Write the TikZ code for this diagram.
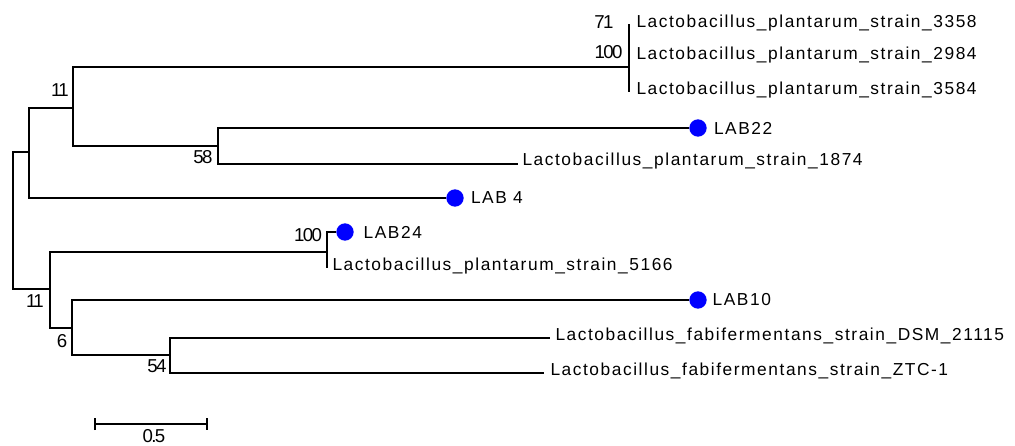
\documentclass[tikz,border=0pt]{standalone}
\usepackage{fontspec}
\setmainfont{Liberation Sans}
\newfontfamily\taxonfont{Liberation Sans}[LetterSpace=9]
\newfontfamily\bootfont{Liberation Sans}[LetterSpace=-9]
\usetikzlibrary{arrows.meta}

\tikzset{every picture/.style={line width=0.75pt}}
\tikzset{
  branch/.style={line width=1.2pt},
  taxon/.style={anchor=west, inner sep=0.75pt, text=black, font=\taxonfont\fontsize{13}{15}\selectfont},
  boot/.style={inner sep=0.75pt, font=\bootfont\fontsize{14}{16}\selectfont},
  marker/.style={circle, fill={rgb, 255:red, 0; green, 0; blue, 255}, inner sep=0pt, minimum size=13pt},
}

\begin{document}
\begin{tikzpicture}[x=0.75pt,y=0.75pt,yscale=-1,xscale=1]
        \useasboundingbox (0,0) rectangle (1015,446);

        %Internal nodes
        \coordinate (root) at (13,221);
        \coordinate (nA) at (29,152);
        \coordinate (n11a) at (73,108);
        \coordinate (n100a) at (629,67);
        \coordinate (n71) at (629,40);
        \coordinate (n58) at (218,146);
        \coordinate (n11b) at (50,289);
        \coordinate (n100b) at (327,252);
        \coordinate (n6) at (72,328);
        \coordinate (n54) at (170,355);

        %Leaf ends
        \coordinate (t3358) at (629,24);
        \coordinate (t2984) at (629,55);
        \coordinate (t3584) at (629,92);
        \coordinate (t1874) at (518,164);
        \coordinate (t5166) at (327,268);
        \coordinate (tDSM) at (550,338);
        \coordinate (tZTC) at (544,373);
        \node [marker] (lab22) at (698,128) {};
        \node [marker] (lab4) at (455,198) {};
        \node [marker] (lab24) at (345,232) {};
        \node [marker] (lab10) at (698,300) {};

        %Branches
        \draw [branch] (root) |- (nA);
        \draw [branch] (root) |- (n11b);
        \draw [branch] (nA) |- (n11a);
        \draw [branch] (nA) |- (lab4.west);
        \draw [branch] (n11a) |- (n100a);
        \draw [branch] (n11a) |- (n58);
        \draw [branch] (t3358) -- (t2984);
        \draw [branch] (n71) -- (t3584);
        \draw [branch] (n58) |- (lab22.west);
        \draw [branch] (n58) |- (t1874);
        \draw [branch] (n11b) |- (n100b);
        \draw [branch] (n11b) |- (n6);
        \draw [branch] (n100b) |- (lab24.west);
        \draw [branch] (n100b) |- (t5166);
        \draw [branch] (n6) |- (lab10.west);
        \draw [branch] (n6) |- (n54);
        \draw [branch] (n54) |- (tDSM);
        \draw [branch] (n54) |- (tZTC);

        % Text Node
        \node [taxon] (l3358) at (635,23) {Lactobacillus\_plantarum\_strain\_3358};
        \node [taxon] (l2984) at (635,55) {Lactobacillus\_plantarum\_strain\_2984};
        \node [taxon] (l3584) at (635,90) {Lactobacillus\_plantarum\_strain\_3584};
        \node [taxon] (l22) at ([xshift=4]lab22.east) {LAB22};
        \node [taxon] (l1874) at (521,161) {Lactobacillus\_plantarum\_strain\_1874};
        \node [taxon] (l4) at ([xshift=4]lab4.east) {LAB 4};
        \node [taxon] (l24) at ([xshift=6]lab24.east) {LAB24};
        \node [taxon] (l5166) at (331,266) {Lactobacillus\_plantarum\_strain\_5166};
        \node [taxon] (l10) at ([xshift=3]lab10.east) {LAB10};
        \node [taxon] (lDSM) at (554,336) {Lactobacillus\_fabifermentans\_strain\_DSM\_21115};
        \node [taxon] (lZTC) at (549,371) {Lactobacillus\_fabifermentans\_strain\_ZTC-1};

        % Bootstrap values
        \node [boot, anchor=east] (b71) at (615,22) {71};
        \node [boot, anchor=east] (b100a) at (624,52) {100};
        \node [boot] (b11a) at (60,90) {11};
        \node [boot] (b58) at (203,157) {58};
        \node [boot] (b100b) at (308,235) {100};
        \node [boot] (b11b) at (35,301) {11};
        \node [boot] (b6) at (62,341) {6};
        \node [boot] (b54) at (157,366) {54};

        %Scale bar
        \coordinate (sb0) at (94,424);
        \coordinate (sb1) at (208,424);
        \draw [branch, {Bar[width=9pt]}-{Bar[width=9pt]}] (sb0) -- (sb1);
        \node [boot] (sblabel) at (154,436) {0.5};
\end{tikzpicture}
\end{document}
